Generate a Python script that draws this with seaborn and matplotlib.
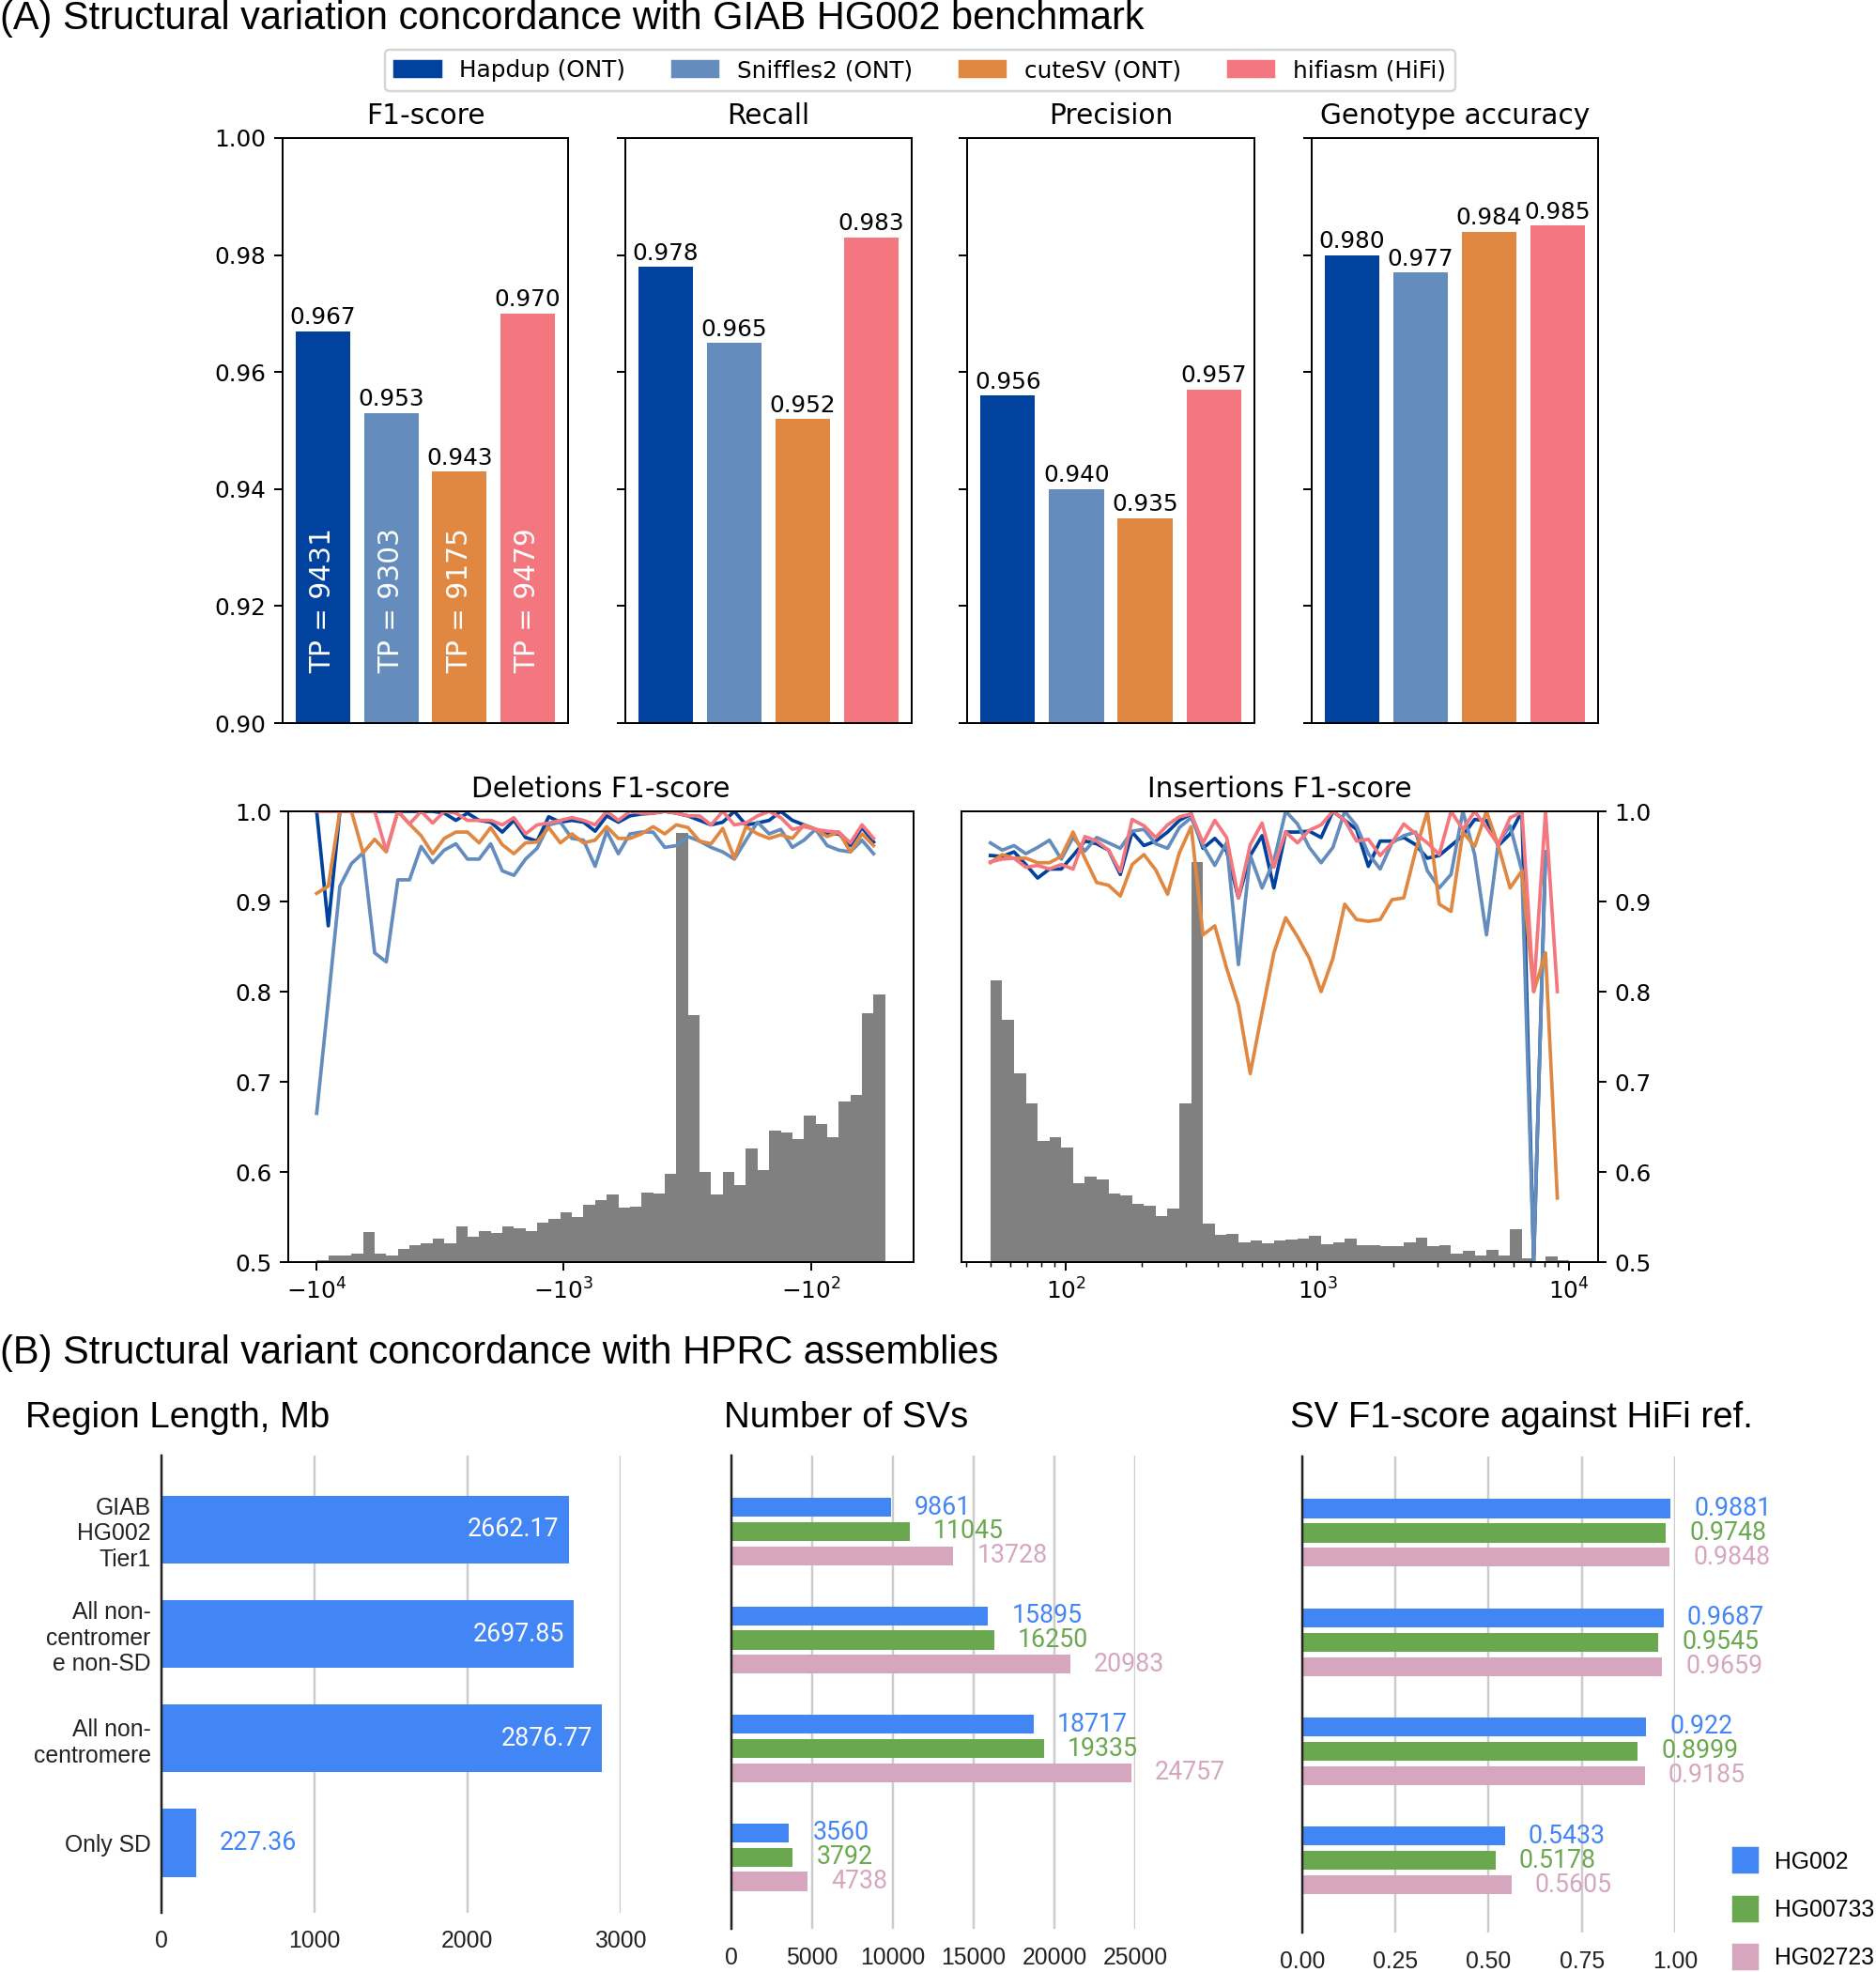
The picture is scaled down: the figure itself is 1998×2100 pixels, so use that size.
import numpy as np
import pandas as pd
import matplotlib
matplotlib.use("Agg")
import matplotlib.pyplot as plt
from matplotlib.lines import Line2D
from matplotlib.patches import Patch
from matplotlib.ticker import NullLocator, FormatStrFormatter
import seaborn as sns

# ---- panel A: GIAB HG002 benchmark ----
CALLERS = ["Hapdup (ONT)", "Sniffles2 (ONT)", "cuteSV (ONT)", "hifiasm (HiFi)"]
CALLER_COLORS = ["#00429d", "#648dbd", "#e08842", "#f4777f"]

F1_SCORE = [0.967, 0.953, 0.943, 0.970]
RECALL = [0.978, 0.965, 0.952, 0.983]
PRECISION = [0.956, 0.940, 0.935, 0.957]
GT_ACCURACY = [0.980, 0.977, 0.984, 0.985]
TRUE_POS = [9431, 9303, 9175, 9479]

# SV length histograms (arbitrary count units), 49 log bins from 50 bp to 10 kb
DEL_COUNTS = [2, 7, 7, 9, 33, 9, 7, 15, 19, 21, 26, 21, 40, 28, 34, 32, 40, 38, 34, 44,
              48, 55, 50, 64, 69, 75, 60, 61, 77, 76, 98, 476, 274, 100, 75, 100, 85, 126,
              102, 146, 144, 136, 163, 153, 139, 178, 185, 276, 297]
INS_COUNTS = [312, 269, 209, 176, 134, 139, 127, 87, 95, 92, 76, 74, 65, 63, 51, 59, 176,
              444, 43, 30, 31, 22, 24, 21, 24, 25, 26, 29, 20, 22, 26, 19, 19, 18, 18, 22,
              27, 18, 19, 9, 12, 7, 14, 7, 36, 4, 1, 6, 2]

# per-bin F1 (deletions, from -10 kb to -50 bp)
DEL_HAPDUP = [1.0, 0.873, 1.0, 1.0, 1.0, 1.0, 1.0, 1.0, 1.0, 1.0, 1.0, 0.998, 0.990, 0.998,
              0.990, 0.988, 0.977, 0.990, 0.971, 0.967, 0.994, 0.988, 0.990, 0.988, 0.978,
              0.995, 0.988, 0.995, 0.997, 0.998, 1.0, 0.998, 0.995, 0.990, 0.985, 0.988, 1.0,
              0.985, 0.987, 0.990, 1.0, 0.990, 0.985, 0.980, 0.975, 0.975, 0.962, 0.982, 0.966]
DEL_SNIFFLES = [0.665, 0.790, 0.917, 0.942, 0.954, 0.843, 0.833, 0.924, 0.924, 0.961, 0.943,
                0.957, 0.964, 0.947, 0.947, 0.964, 0.934, 0.929, 0.947, 0.959, 0.985, 0.988,
                0.970, 0.968, 0.939, 0.978, 0.953, 0.975, 0.977, 0.977, 0.960, 0.962, 0.972,
                0.967, 0.960, 0.955, 0.947, 0.968, 0.988, 0.975, 0.980, 0.960, 0.968, 0.980,
                0.962, 0.957, 0.955, 0.968, 0.953]
DEL_CUTESV = [0.909, 0.917, 1.0, 1.0, 0.954, 0.969, 0.955, 1.0, 0.986, 0.973, 0.953, 0.970,
              0.977, 0.977, 0.965, 0.982, 0.963, 0.953, 0.965, 0.966, 0.982, 0.965, 0.975,
              0.965, 0.968, 0.983, 0.970, 0.970, 0.975, 0.983, 0.975, 0.985, 0.982, 0.967,
              0.964, 0.981, 0.948, 0.983, 0.975, 0.970, 0.974, 0.970, 0.985, 0.980, 0.972,
              0.977, 0.955, 0.975, 0.962]
DEL_HIFIASM = [1.0, 1.0, 1.0, 1.0, 1.0, 1.0, 0.956, 1.0, 0.986, 1.0, 0.987, 1.0, 0.998, 0.990,
               0.990, 0.990, 0.985, 0.993, 0.975, 0.985, 0.987, 0.990, 0.993, 0.990, 0.985,
               1.0, 0.990, 1.0, 0.998, 0.998, 1.0, 0.998, 0.995, 0.995, 0.985, 1.0, 0.985,
               0.987, 0.995, 1.0, 0.993, 0.980, 0.983, 0.980, 0.978, 0.977, 0.965, 0.985, 0.970]

# per-bin F1 (insertions, from 50 bp to 10 kb)
INS_HAPDUP = [0.951, 0.950, 0.955, 0.941, 0.926, 0.936, 0.936, 0.951, 0.967, 0.964, 0.957,
              0.930, 0.977, 0.962, 0.967, 0.977, 0.990, 0.997, 0.959, 0.970, 0.956, 0.904,
              0.951, 0.973, 0.915, 0.977, 0.977, 0.978, 0.971, 1.0, 0.990, 0.980, 0.939,
              0.967, 0.967, 0.971, 0.963, 0.948, 0.951, 0.962, 0.973, 0.991, 0.990, 0.962,
              0.975, 1.0, 0.5, 0.955, np.nan]
INS_SNIFFLES = [0.965, 0.957, 0.962, 0.953, 0.960, 0.968, 0.947, 0.971, 0.956, 0.971, 0.965,
                0.959, 0.978, 0.980, 0.964, 0.959, 0.982, 0.993, 0.962, 0.940, 0.965, 0.830,
                0.951, 0.915, 0.945, 1.0, 0.986, 0.960, 0.943, 0.960, 1.0, 0.984, 0.953,
                0.936, 0.965, 0.973, 0.977, 0.934, 0.915, 0.930, 1.0, 0.952, 0.863, 0.965,
                0.984, 0.934, 0.5, 0.955, np.nan]
INS_CUTESV = [0.943, 0.952, 0.948, 0.948, 0.943, 0.943, 0.950, 0.977, 0.948, 0.921, 0.918,
              0.906, 0.941, 0.952, 0.935, 0.908, 0.954, 0.983, 0.863, 0.873, 0.826, 0.785,
              0.709, 0.777, 0.843, 0.882, 0.861, 0.837, 0.800, 0.837, 0.897, 0.880, 0.878,
              0.880, 0.902, 0.904, 0.956, 1.0, 0.897, 0.889, 0.977, 0.961, 1.0, 0.962, 0.915,
              0.934, 0.800, 0.843, 0.571]
INS_HIFIASM = [0.944, 0.947, 0.948, 0.938, 0.940, 0.936, 0.941, 0.936, 0.972, 0.967, 0.957,
               0.933, 0.991, 0.984, 0.971, 0.985, 0.994, 0.997, 0.965, 0.990, 0.971, 0.904,
               0.963, 0.987, 0.938, 0.977, 0.965, 0.979, 0.985, 1.0, 0.990, 0.967, 0.969,
               0.951, 0.965, 0.986, 0.975, 0.965, 0.952, 1.0, 0.980, 1.0, 0.982, 0.963, 0.993,
               0.999, 0.800, 1.0, 0.800]

# ---- panel B: HPRC assemblies ----
REGIONS = ["GIAB\nHG002\nTier1", "All non-\ncentromer\ne non-SD", "All non-\ncentromere", "Only SD"]
REGION_MB = [2662.17, 2697.85, 2876.77, 227.36]
SAMPLES = ["HG002", "HG00733", "HG02723"]
SAMPLE_COLORS = ["#4285f4", "#6aa84f", "#d5a6bd"]
SV_HG002 = [9861, 15895, 18717, 3560]
SV_HG00733 = [11045, 16250, 19335, 3792]
SV_HG02723 = [13728, 20983, 24757, 4738]
F1_HG002 = [0.9881, 0.9687, 0.922, 0.5433]
F1_HG00733 = [0.9748, 0.9545, 0.8999, 0.5178]
F1_HG02723 = [0.9848, 0.9659, 0.9185, 0.5605]

W, H, DPI = 1999, 2100, 178
SHEETS_FONT = "Liberation Sans"
VALUE_FONT = "Roboto"


def add_axes(fig, left, top, right, bottom):
    """Axes from pixel box on the final image."""
    return fig.add_axes([left / W, 1 - bottom / H, (right - left) / W, (bottom - top) / H])


def metric_bars(fig, title, values, left, right, show_labels, show_tp):
    ax = add_axes(fig, left, 147, right, 770)
    df = pd.DataFrame({"caller": CALLERS, "value": values})
    sns.barplot(data=df, x="caller", y="value", hue="caller", palette=CALLER_COLORS,
                saturation=1, width=0.8, legend=False, ax=ax)
    for cont in ax.containers:
        ax.bar_label(cont, fmt="%.3f", padding=1, fontsize=10)
    if show_tp:
        for i, tp in enumerate(TRUE_POS):
            ax.text(i, 0.9085, f"TP = {tp}", rotation=90, ha="center", va="bottom",
                    color="white", fontsize=12)
    ax.set_xlim(-0.59, 3.59)
    ax.set_ylim(0.90, 1.00)
    ax.set_yticks(np.linspace(0.90, 1.00, 6))
    ax.yaxis.set_major_formatter(FormatStrFormatter("%.2f"))
    ax.tick_params(labelleft=show_labels)
    ax.set_xticks([])
    ax.set_xlabel("")
    ax.set_ylabel("")
    ax.set_title(title, fontsize=12)


def size_panel(fig, title, left, right, edges, counts, lines, scale, xlim, ticks_right):
    ax = add_axes(fig, left, 864, right, 1344)
    hax = ax.twinx()
    # length distribution drawn behind the F1 curves
    hax.stairs(counts, edges, fill=True, color="#808080", linewidth=0)
    hax.set_ylim(0, 500)
    hax.set_yticks([])
    hax.set_ylabel("")

    long = pd.DataFrame({
        "size": np.tile(edges[:-1], len(CALLERS)),
        "f1": np.concatenate(lines),
        "caller": np.repeat(CALLERS, len(edges) - 1),
    })
    sns.lineplot(data=long, x="size", y="f1", hue="caller", palette=CALLER_COLORS,
                 estimator=None, linewidth=1.5, legend=False, ax=ax)
    ax.set_zorder(hax.get_zorder() + 1)
    ax.patch.set_visible(False)

    ax.set_xscale(scale)
    if scale == "symlog":
        ax.xaxis.set_minor_locator(NullLocator())
    ax.set_xlim(*xlim)
    ax.set_ylim(0.5, 1.0)
    ax.set_yticks(np.linspace(0.5, 1.0, 6))
    ax.yaxis.set_major_formatter(FormatStrFormatter("%.1f"))
    if ticks_right:
        ax.yaxis.tick_right()
    ax.set_xlabel("")
    ax.set_ylabel("")
    ax.set_title(title, fontsize=12)


def style_sheet_axes(ax, xmax, ticks, fmt, ylim, xpad):
    ax.set_xlim(0, xmax)
    ax.set_xticks(ticks)
    ax.xaxis.set_major_formatter(FormatStrFormatter(fmt))
    ax.xaxis.grid(True, color="#cccccc", linewidth=1.0)
    ax.set_axisbelow(True)
    for side in ("top", "right", "bottom"):
        ax.spines[side].set_visible(False)
    ax.spines["left"].set_color("#222222")
    ax.spines["left"].set_linewidth(1.0)
    ax.tick_params(length=0, labelsize=10, labelfontfamily=SHEETS_FONT, labelcolor="#222222")
    ax.tick_params(axis="x", pad=xpad)
    ax.set_xlabel("")
    ax.set_ylabel("")
    ax.set_ylim(*ylim)


def grouped_bars(fig, box, series, xmax, ticks, fmt, ylim, xpad):
    ax = add_axes(fig, *box)
    df = pd.DataFrame({
        "region": np.tile(REGIONS, len(SAMPLES)),
        "sample": np.repeat(SAMPLES, len(REGIONS)),
        "value": np.concatenate(series),
    })
    sns.barplot(data=df, x="value", y="region", hue="sample", palette=SAMPLE_COLORS,
                saturation=1, width=0.67, gap=0.22, orient="h", legend=False, ax=ax)
    for cont, color in zip(ax.containers, SAMPLE_COLORS):
        ax.bar_label(cont, labels=[f"{v:g}" for v in cont.datavalues], padding=10.2,
                     color=color, fontfamily=VALUE_FONT, fontsize=10.8)
    style_sheet_axes(ax, xmax, ticks, fmt, ylim, xpad)
    ax.tick_params(labelleft=False)
    return ax


def main():
    fig = plt.figure(figsize=(W / DPI, H / DPI), dpi=DPI)
    fig.patch.set_facecolor("white")

    # ---------------- (A) ----------------
    fig.text(0.0, 1 - 31 / H, "(A) Structural variation concordance with GIAB HG002 benchmark",
             fontsize=16.8, family=SHEETS_FONT, ha="left", va="baseline")
    handles = [Patch(color=c, label=l) for c, l in zip(CALLER_COLORS, CALLERS)]
    fig.legend(handles=handles, loc="center", bbox_to_anchor=(980 / W, 1 - 75 / H),
               ncol=4, fontsize=10)

    panels = [("F1-score", F1_SCORE, 301, 605), ("Recall", RECALL, 666, 971),
              ("Precision", PRECISION, 1030, 1336), ("Genotype accuracy", GT_ACCURACY, 1397, 1702)]
    for k, (title, values, left, right) in enumerate(panels):
        metric_bars(fig, title, values, left, right, show_labels=(k == 0), show_tp=(k == 0))

    del_edges = -np.geomspace(10000, 50, 50)
    ins_edges = np.geomspace(50, 10000, 50)
    size_panel(fig, "Deletions F1-score", 307, 973, del_edges, DEL_COUNTS,
               [DEL_HAPDUP, DEL_SNIFFLES, DEL_CUTESV, DEL_HIFIASM], "symlog",
               (-10 ** 4.115, -10 ** 1.584), ticks_right=False)
    size_panel(fig, "Insertions F1-score", 1024, 1702, ins_edges, INS_COUNTS,
               [INS_HAPDUP, INS_SNIFFLES, INS_CUTESV, INS_HIFIASM], "log",
               (10 ** 1.584, 10 ** 4.115), ticks_right=True)

    # ---------------- (B) ----------------
    fig.text(0.0, 1 - 1452 / H, "(B) Structural variant concordance with HPRC assemblies",
             fontsize=16.8, family=SHEETS_FONT, ha="left", va="baseline")
    for x, label in [(27, "Region Length, Mb"), (771, "Number of SVs"),
                     (1374, "SV F1-score against HiFi ref.")]:
        fig.text(x / W, 1 - 1520 / H, label, fontsize=15.5, family=SHEETS_FONT,
                 ha="left", va="baseline")

    ax = add_axes(fig, 171.7, 1550, 660.7, 2037)
    sns.barplot(x=REGION_MB, y=REGIONS, color=SAMPLE_COLORS[0], saturation=1, width=0.65,
                orient="h", ax=ax)
    texts = ax.bar_label(ax.containers[0], labels=[f"{v:g}" for v in REGION_MB],
                         padding=10.2, color=SAMPLE_COLORS[0], fontfamily=VALUE_FONT,
                         fontsize=10.8)
    for txt, v in zip(texts, REGION_MB):
        if v > 1000:  # long bars carry their label inside
            txt.set_ha("right")
            txt.set_color("white")
            txt.xyann = (-4, 0)
    style_sheet_axes(ax, 3000, [0, 1000, 2000, 3000], "%d", (3.67, -0.71), 7.3)
    ax.tick_params(axis="y", pad=4.5)

    grouped_bars(fig, (779, 1550, 1209, 2054), [SV_HG002, SV_HG00733, SV_HG02723],
                 25000, [0, 5000, 10000, 15000, 20000, 25000], "%d", (3.66, -0.70), 7.7)
    grouped_bars(fig, (1387, 1551, 1784, 2058), [F1_HG002, F1_HG00733, F1_HG02723],
                 1.0, [0, 0.25, 0.5, 0.75, 1.0], "%.2f", (3.66, -0.70), 7.7)

    sample_handles = [Line2D([0], [0], marker="s", linestyle="None", markersize=10.5,
                             markerfacecolor=c, markeredgecolor=c) for c in SAMPLE_COLORS]
    fig.legend(sample_handles, SAMPLES, loc="upper left",
               bbox_to_anchor=(1846.6 / W, 1 - 1971 / H), frameon=False, borderpad=0,
               borderaxespad=0, handlelength=1.0, handletextpad=0.76, labelspacing=1.1,
               prop={"family": SHEETS_FONT, "size": 10})

    fig.savefig("out.png", dpi=DPI, facecolor="white")
    plt.close("all")


if __name__ == "__main__":
    main()
